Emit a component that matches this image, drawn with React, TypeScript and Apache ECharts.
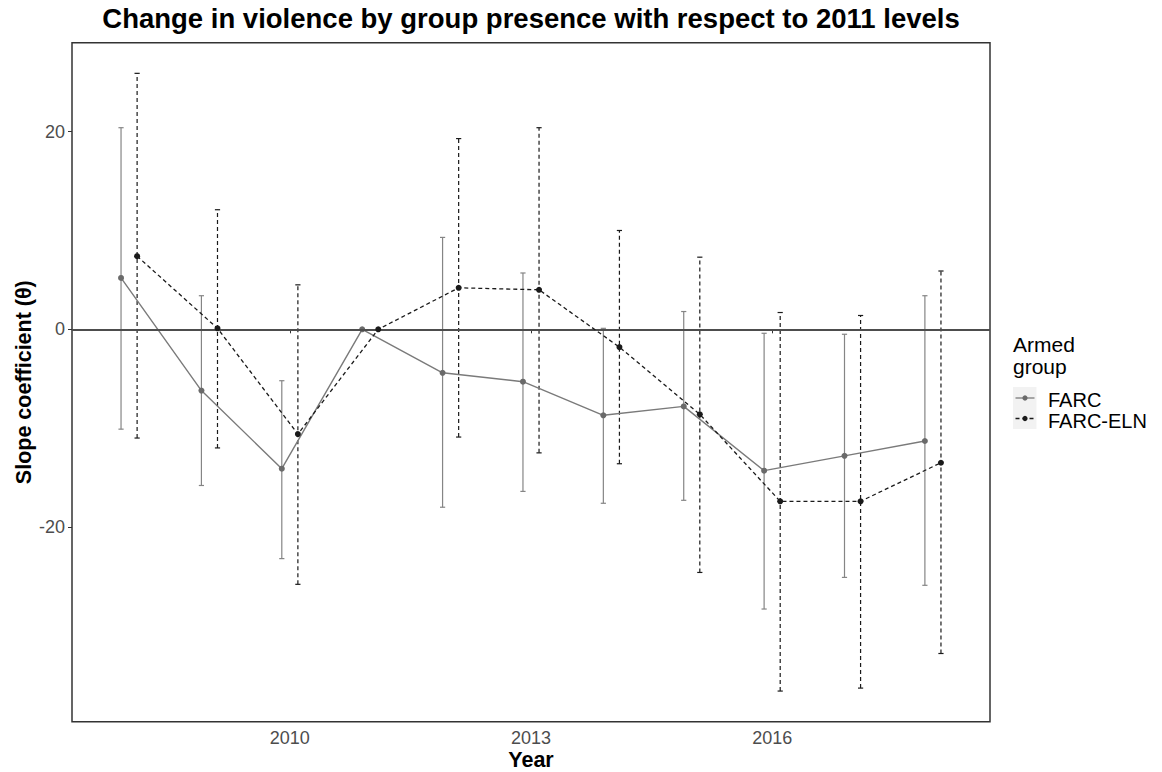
import React, { useEffect, useRef } from "react";
import * as echarts from "echarts";

const years = [2008, 2009, 2010, 2011, 2012, 2013, 2014, 2015, 2016, 2017, 2018];
const farcEst = [5.2, -6.2, -14.1, 0, -4.4, -5.3, -8.7, -7.8, -14.3, -12.8, -11.3];
const farcLow = [-10.1, -15.8, -23.2, null, -18.0, -16.4, -17.6, -17.3, -28.3, -25.1, -25.9];
const farcHigh = [20.4, 3.4, -5.2, null, 9.3, 5.7, 0.1, 1.8, -0.4, -0.5, 3.4];
const elnEst = [7.4, 0.1, -10.6, 0, 4.2, 4.0, -1.8, -8.6, -17.4, -17.4, -13.5];
const elnLow = [-11.0, -12.0, -25.8, null, -10.9, -12.5, -13.6, -24.6, -36.6, -36.3, -32.8];
const elnHigh = [25.9, 12.1, 4.5, null, 19.3, 20.4, 10.0, 7.3, 1.7, 1.4, 5.9];
const xTicks = [2010, 2013, 2016];
const yTicks = [-20, 0, 20];
const groups = ["FARC", "FARC-ELN"];
const dodge = 0.1;

const FONT = "'Liberation Sans', Arial, sans-serif";
const farcColor = "#7a7a7a";
const farcPoint = "#6a6a6a";
const elnColor = "#1a1a1a";

function errData(low: (number | null)[], high: (number | null)[], off: number) {
  const out: number[][] = [];
  years.forEach((y, i) => {
    if (low[i] != null && high[i] != null) out.push([y + off, low[i] as number, high[i] as number]);
  });
  return out;
}

function errRenderer(color: string, dash: number[] | null) {
  return (params: any, api: any) => {
    const x = api.value(0);
    const lo = api.coord([x, api.value(1)]);
    const hi = api.coord([x, api.value(2)]);
    const hw = 2.6;
    const st: any = { stroke: color, lineWidth: 1.2, fill: null };
    const stDash: any = dash ? { ...st, lineDash: dash } : st;
    return {
      type: "group",
      children: [
        { type: "line", shape: { x1: lo[0], y1: lo[1], x2: hi[0], y2: hi[1] }, style: stDash },
        { type: "line", shape: { x1: lo[0] - hw, y1: lo[1], x2: lo[0] + hw, y2: lo[1] }, style: st },
        { type: "line", shape: { x1: hi[0] - hw, y1: hi[1], x2: hi[0] + hw, y2: hi[1] }, style: st },
      ],
    };
  };
}

export default function App() {
  const ref = useRef<HTMLDivElement>(null);
  useEffect(() => {
    if (!ref.current) return;
    const chart = echarts.init(ref.current, null, { renderer: "svg" });
    const gridLeft = 72, gridRight = 990, gridTop = 42.7, gridBottom = 721.7;
    const cx = (gridLeft + gridRight) / 2;
    const option: any = {
      animation: false,
      backgroundColor: "#ffffff",
      grid: {
        left: gridLeft,
        top: gridTop,
        width: gridRight - gridLeft,
        height: gridBottom - gridTop,
        show: true,
        borderColor: "#333333",
        borderWidth: 1.5,
        backgroundColor: "transparent",
      },
      xAxis: {
        type: "value",
        min: 2007.29,
        max: 2018.71,
        axisLine: { show: false },
        splitLine: { show: false },
        axisTick: { show: true, customValues: xTicks, length: 4, lineStyle: { color: "#333333", width: 1 } },
        axisLabel: {
          customValues: xTicks,
          margin: 7,
          color: "#4d4d4d",
          fontSize: 18,
          fontFamily: FONT,
          formatter: (v: number) => String(v),
        },
      },
      yAxis: {
        type: "value",
        min: -39.7,
        max: 29.0,
        axisLine: { show: false },
        splitLine: { show: false },
        axisTick: { show: true, customValues: yTicks, length: 4, lineStyle: { color: "#333333", width: 1 } },
        axisLabel: {
          customValues: yTicks,
          margin: 7,
          color: "#4d4d4d",
          fontSize: 18,
          fontFamily: FONT,
          formatter: (v: number) => String(v),
        },
      },
      series: [
        {
          type: "line",
          name: "zero",
          data: [],
          silent: true,
          markLine: {
            silent: true,
            symbol: "none",
            label: { show: false },
            lineStyle: { color: "#4d4d4d", width: 1.8, type: "solid" },
            data: [{ yAxis: 0 }],
          },
        },
        {
          type: "custom",
          name: groups[0] + " CI",
          renderItem: errRenderer("#858585", null),
          data: errData(farcLow, farcHigh, -dodge),
          encode: { x: 0, y: [1, 2] },
          z: 3,
        },
        {
          type: "custom",
          name: groups[1] + " CI",
          renderItem: errRenderer(elnColor, [4, 3]),
          data: errData(elnLow, elnHigh, dodge),
          encode: { x: 0, y: [1, 2] },
          z: 3,
        },
        {
          type: "line",
          name: groups[0],
          data: years.map((y, i) => [y - dodge, farcEst[i]]),
          symbol: "circle",
          symbolSize: 6,
          itemStyle: { color: farcPoint },
          lineStyle: { color: farcColor, width: 1.4, type: "solid" },
          z: 4,
        },
        {
          type: "line",
          name: groups[1],
          data: years.map((y, i) => [y + dodge, elnEst[i]]),
          symbol: "circle",
          symbolSize: 6,
          itemStyle: { color: elnColor },
          lineStyle: { color: elnColor, width: 1.3, type: [4, 3] },
          z: 5,
        },
      ],
      graphic: [
        {
          type: "text",
          x: cx,
          y: 18,
          style: {
            text: "Change in violence by group presence with respect to 2011 levels",
            fontFamily: FONT,
            fontSize: 27.5,
            fontWeight: "bold",
            fill: "#000000",
            align: "center",
            verticalAlign: "middle",
          },
        },
        {
          type: "text",
          x: cx,
          y: 760,
          style: {
            text: "Year",
            fontFamily: FONT,
            fontSize: 21.5,
            fontWeight: "bold",
            fill: "#000000",
            align: "center",
            verticalAlign: "middle",
          },
        },
        {
          type: "text",
          x: 24,
          y: (gridTop + gridBottom) / 2,
          rotation: Math.PI / 2,
          style: {
            text: "Slope coefficient (θ)",
            fontFamily: FONT,
            fontSize: 21.5,
            fontWeight: "bold",
            fill: "#000000",
            align: "center",
            verticalAlign: "middle",
          },
        },
        {
          type: "text",
          x: 1013,
          y: 344,
          style: { text: "Armed", fontFamily: FONT, fontSize: 21, fill: "#000000", align: "left", verticalAlign: "middle" },
        },
        {
          type: "text",
          x: 1013,
          y: 366,
          style: { text: "group", fontFamily: FONT, fontSize: 21, fill: "#000000", align: "left", verticalAlign: "middle" },
        },
        { type: "rect", shape: { x: 1013, y: 387, width: 23.5, height: 42 }, style: { fill: "#f2f2f2" } },
        { type: "line", shape: { x1: 1015.5, y1: 398, x2: 1034.5, y2: 398 }, style: { stroke: farcColor, lineWidth: 1.3 } },
        { type: "circle", shape: { cx: 1025, cy: 398, r: 2.6 }, style: { fill: farcPoint } },
        { type: "line", shape: { x1: 1015.5, y1: 418.5, x2: 1034.5, y2: 418.5 }, style: { stroke: elnColor, lineWidth: 1.3, lineDash: [4, 3] } },
        { type: "circle", shape: { cx: 1025, cy: 418.5, r: 2.6 }, style: { fill: elnColor } },
        {
          type: "text",
          x: 1048,
          y: 399.5,
          style: { text: groups[0], fontFamily: FONT, fontSize: 20, fill: "#000000", align: "left", verticalAlign: "middle" },
        },
        {
          type: "text",
          x: 1048,
          y: 420.5,
          style: { text: groups[1], fontFamily: FONT, fontSize: 20, fill: "#000000", align: "left", verticalAlign: "middle" },
        },
      ],
    };
    chart.setOption(option);
    return () => chart.dispose();
  }, []);
  return <div ref={ref} style={{ position: "absolute", left: 0, top: 0, width: 1162, height: 772 }} />;
}
